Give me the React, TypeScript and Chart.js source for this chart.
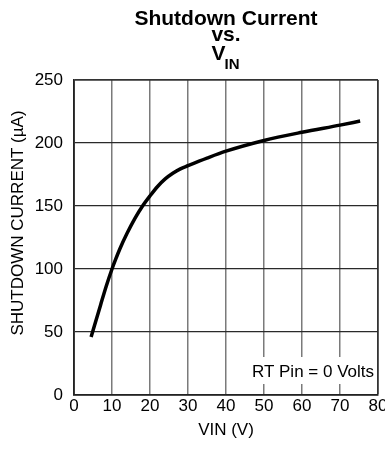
import React, { useEffect, useRef } from "react";
import { Chart, registerables } from "chart.js";

Chart.register(...registerables);

const vinValues: number[] = [4.5, 7, 8.5, 10, 11, 12, 14, 16, 18, 20, 22, 24, 26, 28, 30, 35, 40, 50, 60, 70, 75.3];
const currentValues: number[] = [46, 71.5, 86.5, 100, 108, 115.5, 128.5, 140, 149.8, 158, 165.5, 171.5, 176, 179.5, 182, 188, 193.5, 202, 208.5, 214.2, 217.4];
const titleLines: string[] = ["Shutdown Current", "vs."];
const titleMain = "V";
const titleSub = "IN";
const yAxisTitle = "SHUTDOWN CURRENT (\u00b5A)";
const xAxisTitle = "VIN (V)";
const noteText = "RT Pin = 0 Volts";

const FONT = "'Liberation Sans', Arial, Helvetica, sans-serif";

const overlayPlugin = {
  id: "overlay",
  afterDatasetsDraw(chart: any) {
    const { ctx, chartArea } = chart;
    ctx.save();
    ctx.font = `17px ${FONT}`;
    const tw = ctx.measureText(noteText).width;
    const right = chartArea.right - 4;
    ctx.fillStyle = "#ffffff";
    ctx.fillRect(right - tw - 4, chartArea.bottom - 38, tw + 7, 27);
    ctx.fillStyle = "#000000";
    ctx.textAlign = "right";
    ctx.textBaseline = "alphabetic";
    ctx.fillText(noteText, right, chartArea.bottom - 18);
    ctx.restore();
  },
  afterDraw(chart: any) {
    const { ctx, chartArea } = chart;
    const cx = (chartArea.left + chartArea.right) / 2;
    ctx.save();
    ctx.fillStyle = "#000000";
    ctx.textBaseline = "alphabetic";
    ctx.textAlign = "center";
    ctx.font = `bold 21px ${FONT}`;
    ctx.fillText(titleLines[0], cx, 25);
    ctx.fillText(titleLines[1], cx, 41);
    const mainW = ctx.measureText(titleMain).width;
    ctx.font = `bold 15px ${FONT}`;
    const subW = ctx.measureText(titleSub).width;
    const start = cx - (mainW + subW) / 2;
    ctx.textAlign = "left";
    ctx.font = `bold 21px ${FONT}`;
    ctx.fillText(titleMain, start, 60);
    ctx.font = `bold 15px ${FONT}`;
    ctx.fillText(titleSub, start + mainW - 1, 69);
    ctx.font = `17px ${FONT}`;
    ctx.translate(18, 223);
    ctx.rotate(-Math.PI / 2);
    ctx.textAlign = "center";
    ctx.textBaseline = "middle";
    ctx.fillText(yAxisTitle, 0, 0);
    ctx.restore();
  },
};

export default function App() {
  const canvasRef = useRef<HTMLCanvasElement | null>(null);

  useEffect(() => {
    document.body.style.margin = "0";
    const canvas = canvasRef.current;
    if (!canvas) return;
    const points = vinValues.map((x, i) => ({ x, y: currentValues[i] }));
    const chart = new Chart(canvas, {
      type: "line",
      data: {
        datasets: [
          {
            data: points,
            borderColor: "#000000",
            borderWidth: 3.5,
            pointRadius: 0,
            fill: false,
            cubicInterpolationMode: "monotone",
            borderCapStyle: "butt",
          },
        ],
      },
      options: {
        responsive: false,
        animation: false,
        devicePixelRatio: 1,
        layout: { padding: { top: 80, right: 12, left: 0, bottom: 0 } },
        plugins: {
          legend: { display: false },
          tooltip: { enabled: false },
          title: { display: false },
        },
        scales: {
          x: {
            type: "linear",
            min: 0,
            max: 80,
            ticks: {
              stepSize: 10,
              color: "#000000",
              padding: 1,
              font: { family: FONT, size: 17 },
              maxRotation: 0,
            },
            grid: {
              drawTicks: false,
              color: (c: any) => (c.tick && (c.tick.value === 80 || c.tick.value === 0) ? "#333333" : "#7a7a7a"),
              lineWidth: (c: any) => (c.tick && c.tick.value === 80 ? 1.8 : 1.5),
            },
            border: { display: true, color: "#222222", width: 1.8 },
            title: {
              display: true,
              text: xAxisTitle,
              color: "#000000",
              font: { family: FONT, size: 17 },
              padding: { top: 4, bottom: 10 },
            },
            afterFit: (scale: any) => {
              scale.height = 56;
            },
          },
          y: {
            type: "linear",
            min: 0,
            max: 250,
            ticks: {
              stepSize: 50,
              color: "#000000",
              padding: 11,
              font: { family: FONT, size: 17 },
            },
            grid: {
              drawTicks: false,
              color: (c: any) => (c.tick && c.tick.value === 250 ? "#333333" : "#2a2a2a"),
              lineWidth: (c: any) => (c.tick && c.tick.value === 250 ? 1.8 : 1.2),
            },
            border: { display: true, color: "#222222", width: 1.8 },
            afterFit: (scale: any) => {
              scale.width = 74;
            },
          },
        },
      },
      plugins: [overlayPlugin],
    });
    return () => chart.destroy();
  }, []);

  return (
    <div style={{ position: "absolute", left: 0, top: 0, width: 385, height: 451, overflow: "hidden", background: "#ffffff" }}>
      <canvas ref={canvasRef} width={390} height={451} style={{ display: "block", width: 390, height: 451 }} />
    </div>
  );
}
